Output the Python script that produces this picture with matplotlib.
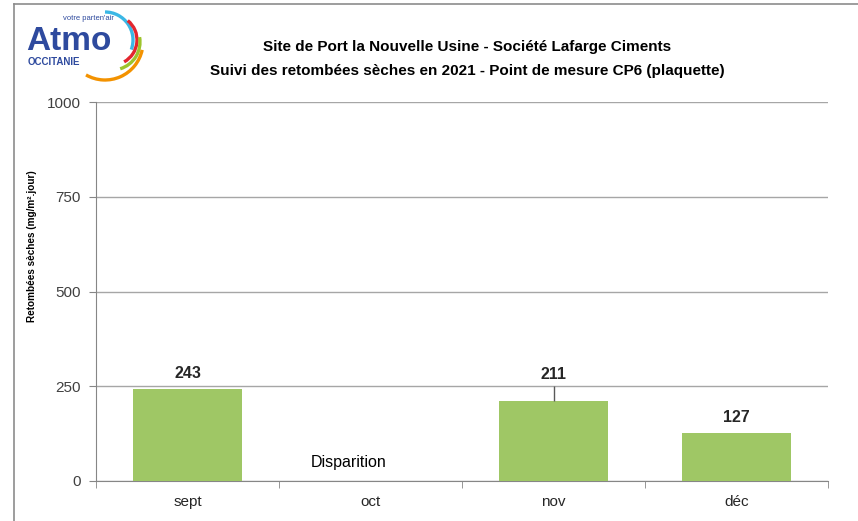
import numpy as np
import matplotlib
matplotlib.use('Agg')
import matplotlib.pyplot as plt
from matplotlib.patches import Arc
from matplotlib.lines import Line2D

# ------------------------------ DATA -----------------------------------------
months = ['sept', 'oct', 'nov', 'déc']
values = [243, np.nan, 211, 127]      # [mg/m².jour], oct missing (plaquette lost)
labels = ['243', '', '211', '127']
err_up = [0, 0, 39, 0]                # upper error bar, only nov
missing_text = 'Disparition'
yticks = [0, 250, 500, 750, 1000]

title1 = 'Site de Port la Nouvelle Usine - Société Lafarge Ciments'
title2 = 'Suivi des retombées sèches en 2021 - Point de mesure CP6 (plaquette)'
ylabel = 'Retombées sèches (mg/m².jour)'

# ------------------------------ PLOTTING -------------------------------------
plt.rcParams['font.family'] = ['Liberation Sans', 'DejaVu Sans']
fig = plt.figure(figsize=(8.58, 5.21), dpi=100)
ax = fig.add_axes([96/858, 1-481/521, (828-96)/858, (481-102)/521])

x = np.arange(len(months))
ax.bar(x, np.nan_to_num(values), width=0.6, color='#9FC765', zorder=3)
ax.errorbar(x[2], values[2], yerr=[[0], [err_up[2]]], fmt='none',
            ecolor='#595959', elinewidth=1, capsize=0, zorder=4)
for xi, v, e, lab in zip(x, values, err_up, labels):
    if lab:
        off = 32 if e else 40
        ax.text(xi, v + e + off, lab, ha='center', va='center', fontsize=11.5,
                fontweight='bold', color='#262626')
ax.text(1 - 0.12, 50, missing_text, ha='center', va='center', fontsize=11.5,
        color='#000000')

ax.set_xlim(-0.5, 3.5)
ax.set_ylim(0, 1000)
ax.set_yticks(yticks)
ax.set_xticks(x)
ax.set_xticklabels(months, fontsize=11, color='#262626')
ax.set_xticks(np.arange(-0.5, 4, 1), minor=True)
ax.tick_params(axis='x', which='major', length=0, pad=10)
ax.tick_params(axis='x', which='minor', length=5, color='#868686', direction='out')
ax.tick_params(axis='y', length=5, color='#868686', labelsize=11,
               labelcolor='#404040', pad=6)
ax.grid(axis='y', color='#A6A6A6', linewidth=1, zorder=0)
for s in ['top', 'right']:
    ax.spines[s].set_visible(False)
ax.spines['left'].set_color('#868686')
ax.spines['bottom'].set_color('#868686')

fig.text(32/858, 1-246/521, ylabel, rotation=90, ha='center', va='center',
         fontsize=7.2, fontweight='bold', color='#000000')

fig.text(467/858, 1-47/521, title1, ha='center', va='center', fontsize=11,
         fontweight='bold')
fig.text(467/858, 1-71/521, title2, ha='center', va='center', fontsize=11,
         fontweight='bold')

# outer frame (left and top only)
fig.add_artist(Line2D([14/858, 14/858], [0, 1-4/521], color='#8C8C8C', lw=1.2))
fig.add_artist(Line2D([14/858, 1], [1-4/521, 1-4/521], color='#8C8C8C', lw=1.2))

# logo
fig.text(26/858, 1-41/521, 'Atmo', fontsize=24, fontweight='bold', color='#2E4A9E',
         ha='left', va='center')
fig.text(63/858, 1-19/521, "votre parten'air", fontsize=5.5, color='#2E4A9E',
         ha='left', va='center')
fig.text(28/858, 1-62/521, 'OCCITANIE', fontsize=7, fontweight='bold', color='#2E4A9E',
         ha='left', va='center')
logo = fig.add_axes([60/858, 1-90/521, 100/858, 90/521])
logo.set_xlim(60, 160)
logo.set_ylim(-90, 0)
logo.axis('off')
for (cx, cy, r, th1, th2, col) in [(105, -40, 28, -20, 90, '#3BB7E5'),
                                   (112, -40, 25, -61, 51, '#E3262E'),
                                   (112, -42, 28, -73, 10, '#9DC42D'),
                                   (105, -42, 38, -120, -12, '#F39200')]:
    logo.add_patch(Arc((cx, cy), 2*r, 2*r, theta1=th1, theta2=th2, color=col, lw=2.4))

fig.savefig('out.png', dpi=100)
